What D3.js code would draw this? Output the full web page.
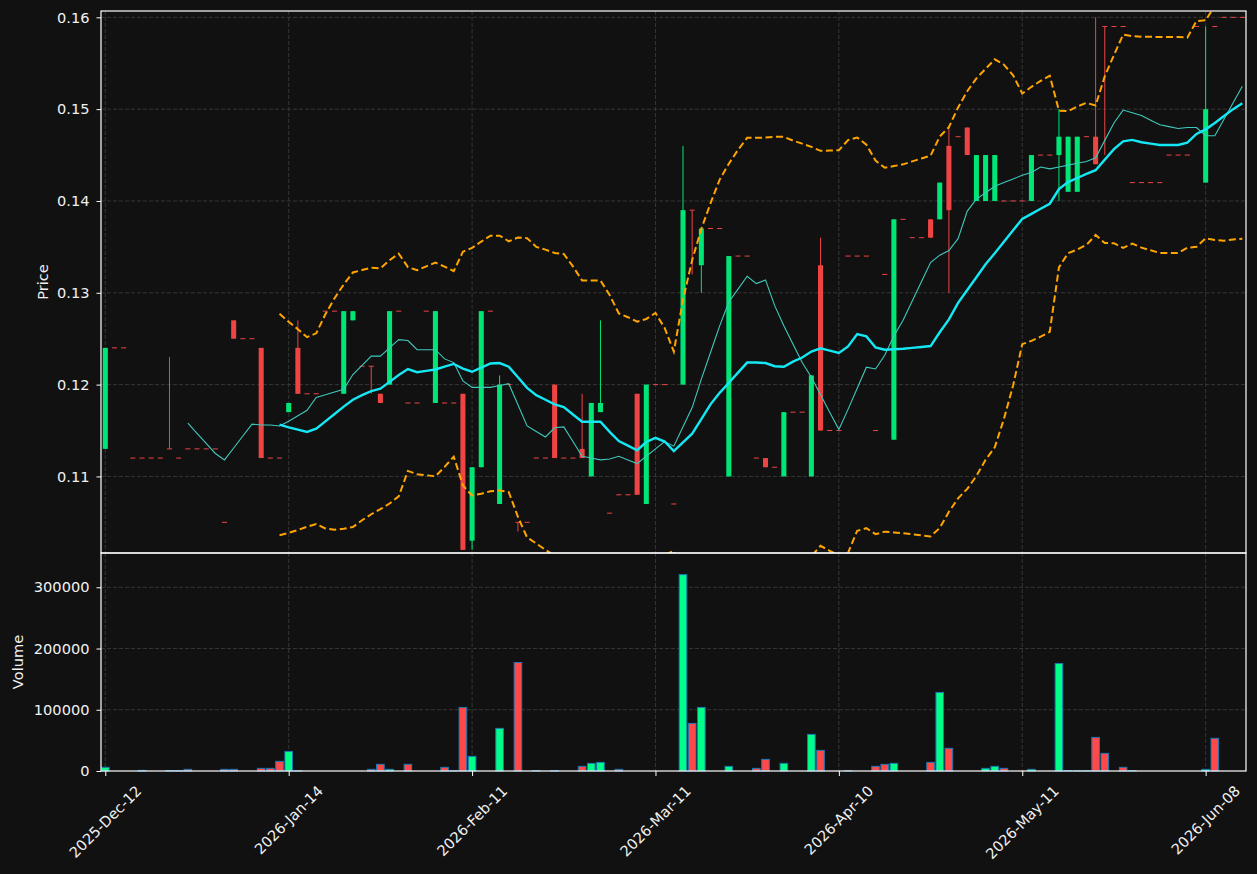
<!DOCTYPE html>
<html>
<head>
<meta charset="utf-8">
<script src="https://cdn.jsdelivr.net/npm/d3@7"></script>
<style>
  html, body { margin: 0; padding: 0; background: #111111; }
  svg { display: block; }
  text { font-family: "DejaVu Sans", sans-serif; }
</style>
</head>
<body>
<div class="chart"></div>
<script>
// candles, one entry per bar (index 0..124)
const opens = [
  0.113,0.124,0.124,0.112,0.112,0.112,0.112,0.113,0.112,0.113,
  0.113,0.113,0.113,0.105,0.127,0.125,0.125,0.124,0.112,0.112,
  0.117,0.124,0.119,0.119,0.128,0.128,0.119,0.127,0.122,0.122,
  0.119,0.120,0.128,0.118,0.118,0.128,0.118,0.118,0.118,0.119,
  0.103,0.111,0.128,0.107,0.120,0.105,0.105,0.112,0.112,0.120,
  0.112,0.112,0.113,0.110,0.117,0.106,0.108,0.108,0.119,0.107,
  0.120,0.120,0.107,0.120,0.139,0.133,0.137,0.137,0.110,0.134,
  0.134,0.112,0.112,0.111,0.110,0.117,0.117,0.110,0.133,0.115,
  0.115,0.134,0.134,0.134,0.115,0.132,0.114,0.138,0.136,0.136,
  0.138,0.138,0.146,0.147,0.148,0.140,0.140,0.140,0.140,0.140,
  0.140,0.140,0.145,0.145,0.145,0.141,0.141,0.147,0.147,0.159,
  0.159,0.159,0.142,0.142,0.142,0.142,0.145,0.145,0.145,0.159,
  0.142,0.159,0.160,0.160,0.160
];
const highs = [
  0.124,0.124,0.124,0.112,0.112,0.112,0.112,0.123,0.112,0.113,
  0.113,0.113,0.113,0.105,0.127,0.125,0.125,0.124,0.112,0.112,
  0.118,0.127,0.119,0.119,0.128,0.128,0.128,0.128,0.122,0.122,
  0.119,0.128,0.128,0.118,0.118,0.128,0.128,0.118,0.118,0.119,
  0.111,0.128,0.128,0.121,0.120,0.105,0.105,0.112,0.112,0.120,
  0.112,0.112,0.119,0.118,0.127,0.106,0.108,0.108,0.119,0.120,
  0.120,0.120,0.107,0.146,0.139,0.137,0.137,0.137,0.134,0.134,
  0.134,0.112,0.112,0.111,0.117,0.117,0.117,0.121,0.136,0.115,
  0.115,0.134,0.134,0.134,0.115,0.132,0.138,0.138,0.136,0.136,
  0.138,0.142,0.148,0.147,0.148,0.145,0.145,0.145,0.140,0.140,
  0.140,0.145,0.145,0.145,0.150,0.147,0.147,0.147,0.160,0.159,
  0.159,0.159,0.142,0.142,0.142,0.142,0.145,0.145,0.145,0.159,
  0.159,0.159,0.160,0.160,0.160
];
const lows = [
  0.113,0.124,0.124,0.112,0.112,0.112,0.112,0.113,0.112,0.113,
  0.113,0.113,0.113,0.105,0.125,0.125,0.125,0.112,0.112,0.112,
  0.117,0.119,0.119,0.119,0.128,0.128,0.119,0.127,0.122,0.119,
  0.118,0.120,0.128,0.118,0.118,0.128,0.118,0.118,0.118,0.102,
  0.102,0.111,0.128,0.107,0.120,0.104,0.105,0.112,0.112,0.112,
  0.112,0.112,0.112,0.110,0.117,0.106,0.108,0.108,0.108,0.107,
  0.120,0.120,0.107,0.120,0.132,0.130,0.137,0.137,0.110,0.134,
  0.134,0.112,0.111,0.111,0.110,0.117,0.117,0.110,0.115,0.115,
  0.115,0.134,0.134,0.134,0.115,0.132,0.114,0.138,0.136,0.136,
  0.136,0.138,0.130,0.147,0.145,0.140,0.140,0.140,0.140,0.140,
  0.140,0.140,0.145,0.145,0.140,0.141,0.141,0.147,0.144,0.145,
  0.159,0.159,0.142,0.142,0.142,0.142,0.145,0.145,0.145,0.159,
  0.142,0.159,0.160,0.160,0.160
];
const closes = [
  0.124,0.124,0.124,0.112,0.112,0.112,0.112,0.113,0.112,0.113,
  0.113,0.113,0.113,0.105,0.125,0.125,0.125,0.112,0.112,0.112,
  0.118,0.119,0.119,0.119,0.128,0.128,0.128,0.128,0.122,0.122,
  0.118,0.128,0.128,0.118,0.118,0.128,0.128,0.118,0.118,0.102,
  0.111,0.128,0.128,0.120,0.120,0.105,0.105,0.112,0.112,0.112,
  0.112,0.112,0.112,0.118,0.118,0.106,0.108,0.108,0.108,0.120,
  0.120,0.120,0.107,0.139,0.139,0.137,0.137,0.137,0.134,0.134,
  0.134,0.112,0.111,0.111,0.117,0.117,0.117,0.121,0.115,0.115,
  0.115,0.134,0.134,0.134,0.115,0.132,0.138,0.138,0.136,0.136,
  0.136,0.142,0.139,0.147,0.145,0.145,0.145,0.145,0.140,0.140,
  0.140,0.145,0.145,0.145,0.147,0.147,0.147,0.147,0.144,0.159,
  0.159,0.159,0.142,0.142,0.142,0.142,0.145,0.145,0.145,0.159,
  0.150,0.159,0.160,0.160,0.160
];
const volumes = [
  6000,0,0,0,1000,0,0,700,700,2700,
  0,0,0,2700,2700,0,0,4300,4300,15800,
  32000,500,0,0,0,0,0,0,0,2700,
  10900,2700,0,10900,0,0,0,6000,500,103800,
  23900,0,0,69600,0,177200,0,500,0,500,
  0,0,7600,12500,14100,0,2700,0,0,0,
  0,0,0,320700,77700,103800,0,0,7600,0,
  0,4300,19000,0,12500,0,0,59800,33700,0,
  0,500,0,0,7600,10900,12500,0,0,0,
  14100,128300,37000,0,0,0,4300,7600,4300,0,
  0,2700,0,0,175500,500,500,500,54900,28800,
  0,6000,500,0,0,0,0,0,0,0,
  2700,53300,0,0,0
];

// x tick positions (bar index) and their labels
const xTickIndex = [0, 20, 40, 60, 80, 100, 120];
const xTickLabels = ['2025-Dec-12', '2026-Jan-14', '2026-Feb-11', '2026-Mar-11',
                     '2026-Apr-10', '2026-May-11', '2026-Jun-08'];
const priceTicks = [0.11, 0.12, 0.13, 0.14, 0.15, 0.16];
const volumeTicks = [0, 100000, 200000, 300000];

const width = 1257;
const height = 874;
const left = 101, right = 1246;
const priceTop = 11, priceBottom = 553;
const volTop = 553, volBottom = 771;

const upColor = '#00e676';
const downColor = '#ef4444';
const volUp = '#00ff88';
const volDown = '#ff4848';
const gridColor = '#3a3a3a';
const fontSize = '14.6px';

const n = closes.length;
const idx = d3.range(n);

const x = d3.scaleLinear().domain([-0.47, 124.4]).range([left, right]);
const step = x(1) - x(0);
const yP = d3.scaleLinear().domain([0.10166, 0.16069]).range([priceBottom, priceTop]);
const yV = d3.scaleLinear().domain([0, 356000]).range([volBottom, volTop]);

// rolling mean / population std of closes (mav 10, 20 and bands)
function rolling(period, fn) {
  return idx.map(i => {
    if (i < period - 1) return null;
    return fn(closes.slice(i - period + 1, i + 1));
  });
}
const ma10 = rolling(10, d3.mean);
const ma20 = rolling(20, d3.mean);
const sd20 = rolling(20, a => {
  const m = d3.mean(a);
  return Math.sqrt(d3.mean(a, v => (v - m) * (v - m)));
});
const upper = idx.map(i => ma20[i] == null ? null : ma20[i] + 2 * sd20[i]);
const lower = idx.map(i => ma20[i] == null ? null : ma20[i] - 2 * sd20[i]);

const svg = d3.select('.chart')
  .append('svg')
  .attr('width', width)
  .attr('height', height);

svg.append('rect')
  .attr('width', width).attr('height', height)
  .attr('fill', '#111111');

const defs = svg.append('defs');
defs.append('clipPath').attr('id', 'clipPrice')
  .append('rect')
  .attr('x', left).attr('y', priceTop)
  .attr('width', right - left).attr('height', priceBottom - priceTop);

// grid
const grid = svg.append('g')
  .attr('stroke', gridColor)
  .attr('stroke-width', 0.9)
  .attr('stroke-dasharray', '4,2');

grid.selectAll('.hp')
  .data(priceTicks)
  .enter()
    .append('line')
    .attr('x1', left).attr('x2', right)
    .attr('y1', d => yP(d)).attr('y2', d => yP(d));

grid.selectAll('.hv')
  .data(volumeTicks.slice(1))
  .enter()
    .append('line')
    .attr('x1', left).attr('x2', right)
    .attr('y1', d => yV(d)).attr('y2', d => yV(d));

grid.selectAll('.vp')
  .data(xTickIndex)
  .enter()
    .append('line')
    .attr('x1', d => x(d)).attr('x2', d => x(d))
    .attr('y1', priceTop).attr('y2', priceBottom);

grid.selectAll('.vv')
  .data(xTickIndex)
  .enter()
    .append('line')
    .attr('x1', d => x(d)).attr('x2', d => x(d))
    .attr('y1', volTop).attr('y2', volBottom);

// candles
const priceG = svg.append('g').attr('clip-path', 'url(#clipPrice)');
const colorOf = i => closes[i] > opens[i] ? upColor : downColor;
const bodyW = step * 0.55;

priceG.selectAll('.wick')
  .data(idx.filter(i => highs[i] > lows[i]))
  .enter()
    .append('line')
    .attr('x1', i => x(i)).attr('x2', i => x(i))
    .attr('y1', i => yP(highs[i])).attr('y2', i => yP(lows[i]))
    .attr('stroke', colorOf)
    .attr('stroke-width', 1);

priceG.selectAll('.body')
  .data(idx)
  .enter()
    .append('rect')
    .attr('x', i => x(i) - bodyW / 2)
    .attr('width', bodyW)
    .attr('y', i => {
      const top = yP(Math.max(opens[i], closes[i]));
      const h = yP(Math.min(opens[i], closes[i])) - top;
      return h < 1 ? top - 0.5 : top;
    })
    .attr('height', i => Math.max(1, yP(Math.min(opens[i], closes[i])) - yP(Math.max(opens[i], closes[i]))))
    .attr('fill', colorOf);

// overlays
const line = d3.line()
  .defined(d => d.v != null)
  .x(d => x(d.i))
  .y(d => yP(d.v));

const asPts = arr => idx.map(i => ({ i: i, v: arr[i] }));

priceG.append('path')
  .attr('d', line(asPts(ma10)))
  .attr('fill', 'none')
  .attr('stroke', '#3fc9bd')
  .attr('stroke-width', 1.1);

priceG.append('path')
  .attr('d', line(asPts(ma20)))
  .attr('fill', 'none')
  .attr('stroke', '#14e8f5')
  .attr('stroke-width', 2.4);

[upper, lower].forEach(band => {
  priceG.append('path')
    .attr('d', line(asPts(band)))
    .attr('fill', 'none')
    .attr('stroke', '#ffa500')
    .attr('stroke-width', 2)
    .attr('stroke-dasharray', '7,3.5');
});

// volume bars
const volW = step * 0.83;
svg.append('g')
  .selectAll('rect')
  .data(idx.filter(i => volumes[i] > 0))
  .enter()
    .append('rect')
    .attr('x', i => x(i) - volW / 2)
    .attr('width', volW)
    .attr('y', i => yV(volumes[i]))
    .attr('height', i => volBottom - yV(volumes[i]))
    .attr('fill', i => closes[i] > opens[i] ? volUp : volDown)
    .attr('stroke', '#1f77b4')
    .attr('stroke-width', 1);

// axes
function styleAxis(g) {
  g.select('.domain').remove();
  g.selectAll('line').attr('stroke', '#ffffff').attr('stroke-width', 1);
  g.selectAll('text')
    .attr('fill', '#f0f0f0')
    .style('font-size', fontSize)
    .style('font-family', '"DejaVu Sans", sans-serif');
}

svg.append('g')
  .attr('transform', `translate(${left},0)`)
  .call(d3.axisLeft(yP).tickValues(priceTicks).tickFormat(d3.format('.2f'))
    .tickSize(4.5).tickPadding(7))
  .call(styleAxis);

svg.append('g')
  .attr('transform', `translate(${left},0)`)
  .call(d3.axisLeft(yV).tickValues(volumeTicks).tickFormat(d3.format('d'))
    .tickSize(4.5).tickPadding(7))
  .call(styleAxis);

svg.append('g')
  .attr('transform', `translate(0,${volBottom})`)
  .call(d3.axisBottom(x).tickValues(xTickIndex).tickFormat('').tickSize(5))
  .call(styleAxis);

// rotated date labels, box top just under the axis
const xl = svg.append('g');
xTickIndex.forEach((d, k) => {
  const t = xl.append('text')
    .attr('text-anchor', 'middle')
    .attr('dy', '0.35em')
    .attr('fill', '#f0f0f0')
    .style('font-size', fontSize)
    .text(xTickLabels[k]);
  const w = t.node().getComputedTextLength();
  const cy = 783 + (w + 15) * 0.3536;
  t.attr('transform', `translate(${x(d)},${cy}) rotate(-45)`);
});

// frames
const frame = svg.append('g')
  .attr('fill', 'none')
  .attr('stroke', '#ffffff')
  .attr('stroke-width', 1.2);
frame.append('rect')
  .attr('x', left).attr('y', priceTop)
  .attr('width', right - left).attr('height', priceBottom - priceTop);
frame.append('rect')
  .attr('x', left).attr('y', volTop)
  .attr('width', right - left).attr('height', volBottom - volTop);

// axis titles
svg.append('text')
  .attr('transform', `translate(43,${(priceTop + priceBottom) / 2}) rotate(-90)`)
  .attr('text-anchor', 'middle')
  .attr('dy', '0.35em')
  .attr('fill', '#f0f0f0')
  .style('font-size', fontSize)
  .text('Price');

svg.append('text')
  .attr('transform', `translate(18,${(volTop + volBottom) / 2}) rotate(-90)`)
  .attr('text-anchor', 'middle')
  .attr('dy', '0.35em')
  .attr('fill', '#f0f0f0')
  .style('font-size', fontSize)
  .text('Volume');
</script>
</body>
</html>
